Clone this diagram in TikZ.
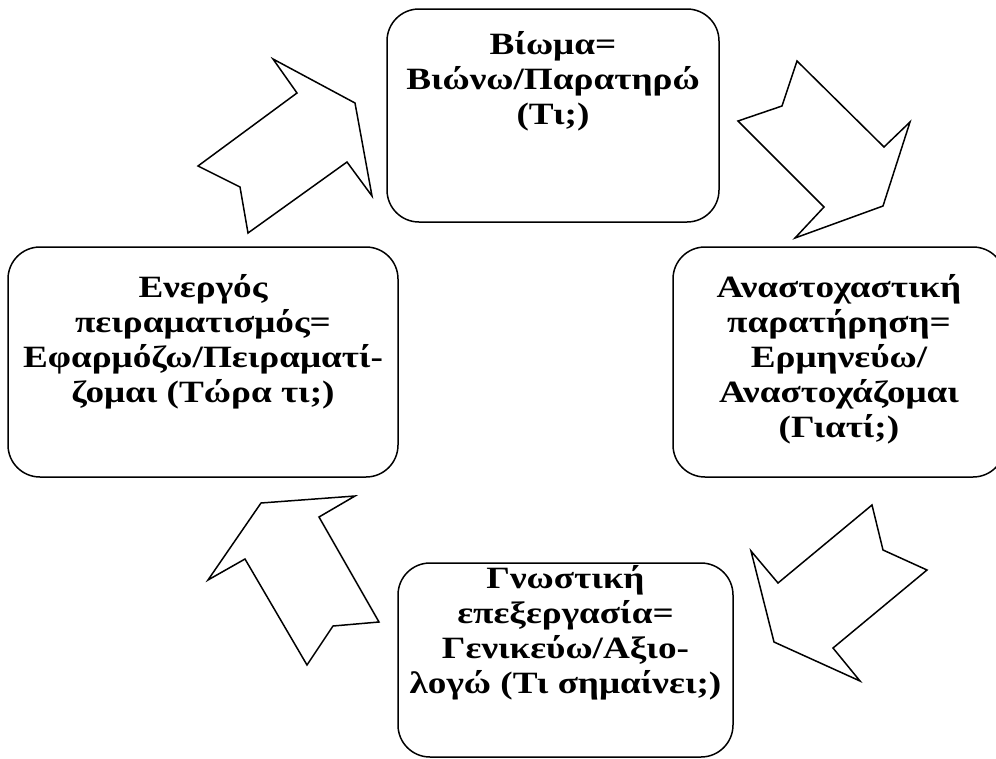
\documentclass[tikz,border=0pt]{standalone}
\usepackage{fontspec}
\setmainfont{Liberation Serif}[FakeStretch=1.2]
\usepackage{tikz}
\usetikzlibrary{positioning,calc}

\begin{document}
\begin{tikzpicture}[x=1pt,y=-1pt,
    box/.style={draw,line width=1.5pt,rounded corners=32pt,inner sep=0pt},
    txt/.style={align=center,font=\bfseries\fontsize{31}{35}\selectfont,inner sep=0pt},
    blk/.style={draw,line width=1.5pt,line join=miter,fill=white}]
    \useasboundingbox (0,0) rectangle (996,758);
    \clip (0,0) rectangle (996,758);
    % boxes
    \node[box,minimum width=332pt,minimum height=213pt] (vio) at (553,115.5) {};
    \node[box,minimum width=332pt,minimum height=230pt] (ana) at (839,362) {};
    \node[box,minimum width=335pt,minimum height=194pt] (gno) at (565.5,660) {};
    \node[box,minimum width=390pt,minimum height=230pt] (ene) at (203,362) {};
    % texts
    \node[txt] (tvio) at (553,81) {Βίωμα=\\Βιώνω/Παρατηρώ\\(Τι;)};
    \node[txt] (tana) at (839,359) {Αναστοχαστική\\παρατήρηση=\\Ερμηνεύω/\\Αναστοχάζομαι\\(Γιατί;)};
    \node[txt] (tgno) at (565.5,633) {Γνωστική\\επεξεργασία=\\Γενικεύω/Αξιο-\\λογώ (Τι σημαίνει;)};
    \node[txt] (tene) at (203,342) {Ενεργός\\πειραματισμός=\\Εφαρμόζω/Πειραματί-\\ζομαι (Τώρα τι;)};
    % block arrows
    \draw[blk] (198,166) -- (297,93) -- (273,59) -- (355,103) -- (372,196) -- (347,162) -- (248,233) -- (240,187) -- cycle;
    \draw[blk] (797,61) -- (884,147) -- (910,122) -- (883,206) -- (795,238) -- (824,207) -- (738,121) -- (782,106) -- cycle;
    \draw[blk] (872,505) -- (883,550) -- (927,570) -- (833,648) -- (860,681) -- (774,642) -- (751,551) -- (778,583) -- cycle;
    \draw[blk] (261,503) -- (355,496) -- (319,517) -- (379,622) -- (333,626) -- (307,665) -- (245,559) -- (208,580) -- cycle;
\end{tikzpicture}
\end{document}
